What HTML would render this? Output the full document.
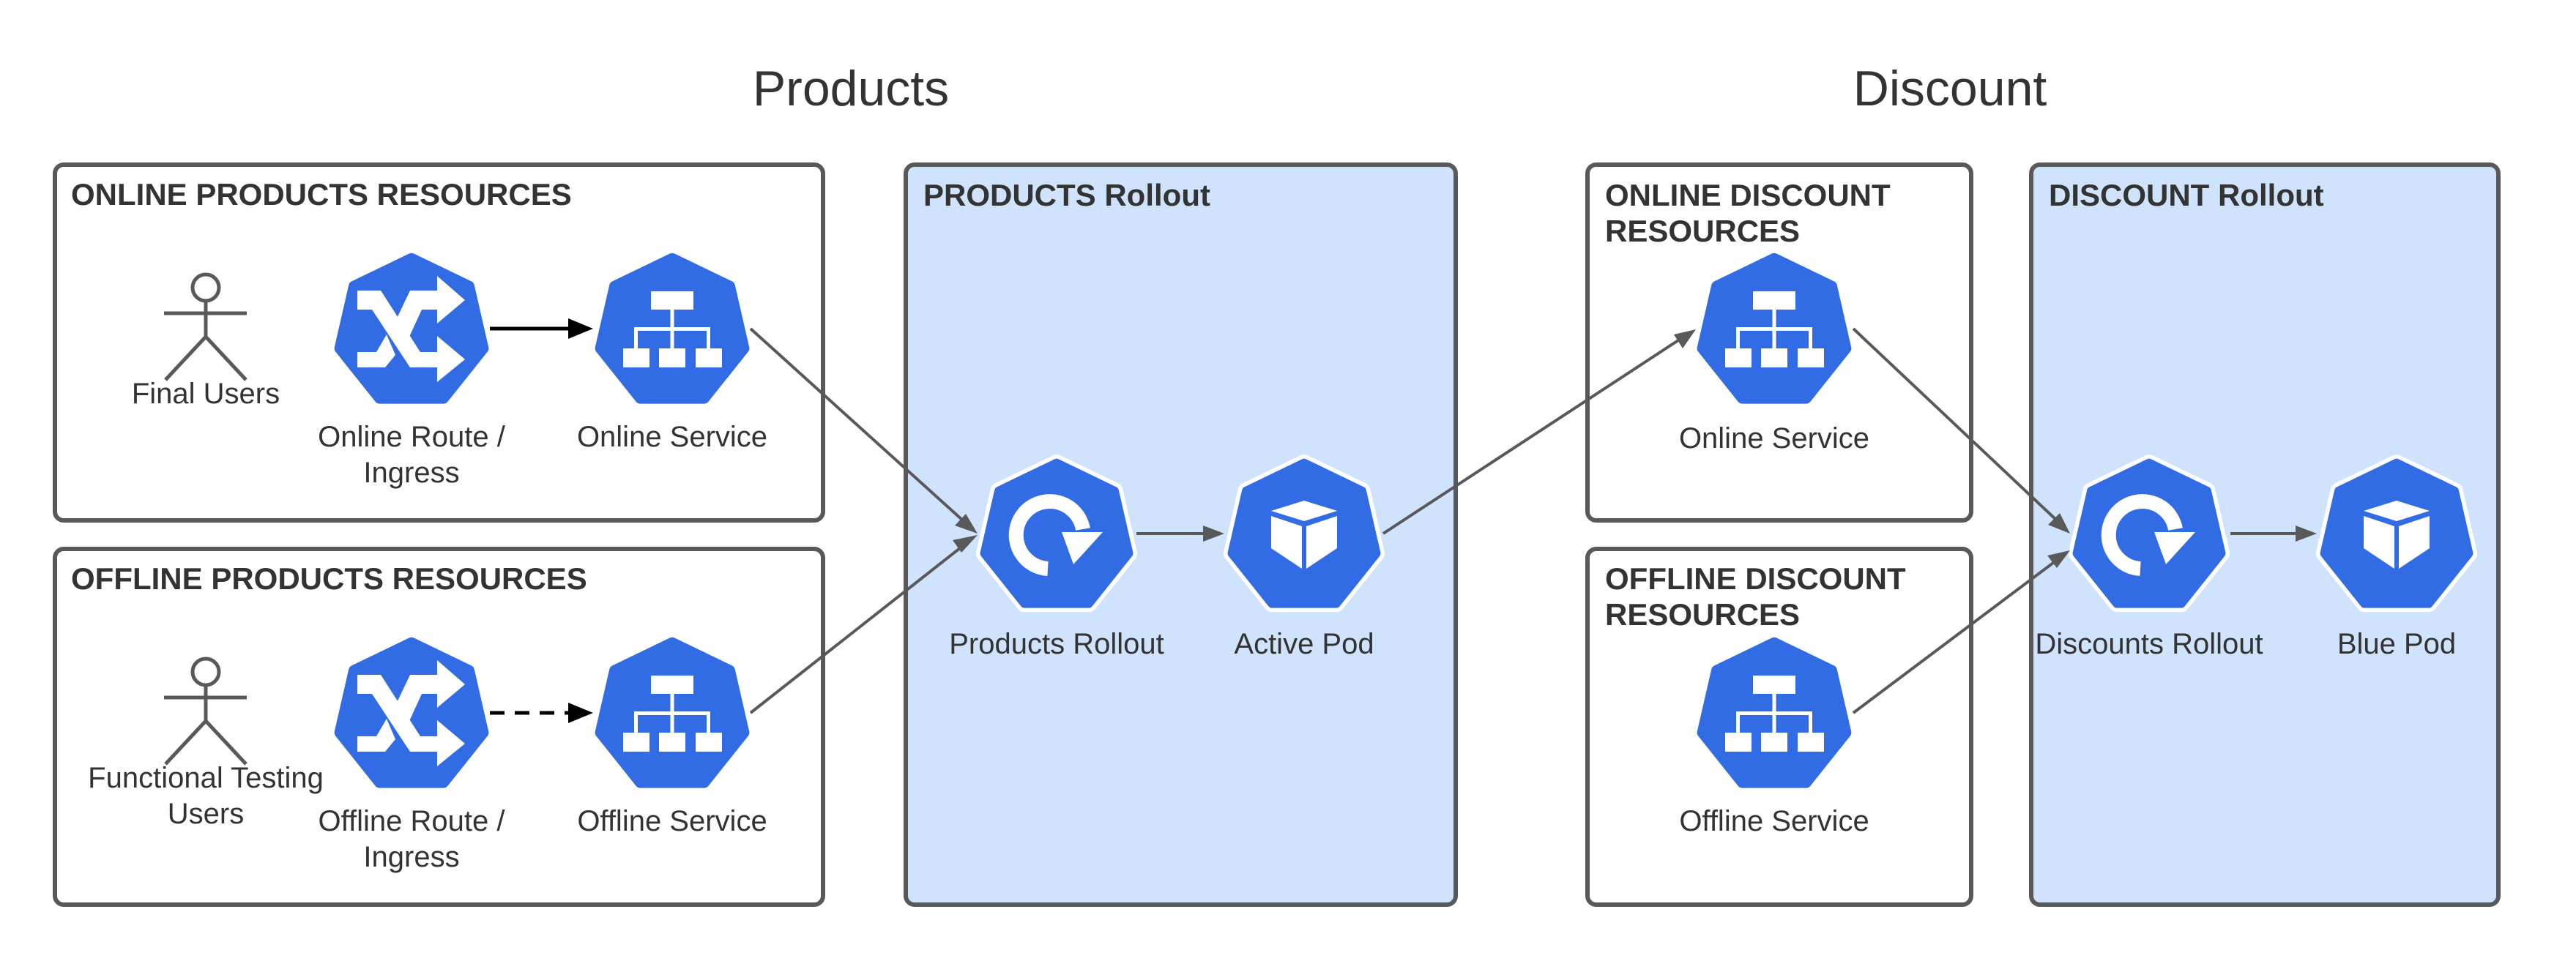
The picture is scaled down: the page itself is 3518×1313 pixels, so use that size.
<!DOCTYPE html>
<html><head><meta charset="utf-8"><style>
html,body{margin:0;padding:0;background:#fff;}
svg{display:block;}
text{font-family:"Liberation Sans",sans-serif;fill:#333;}
.lbl{font-size:40px;text-anchor:middle;}
.hdr{font-size:42px;font-weight:bold;}
.ttl{font-size:68px;text-anchor:middle;}
</style></head><body>
<svg width="3518" height="1313" viewBox="0 0 3518 1313" xmlns="http://www.w3.org/2000/svg">
<defs>
<g id="hept"><polygon transform="scale(0.93)" points="0,-103 84.4,-62.3 105.3,29 46.9,102.3 -46.9,102.3 -105.3,29 -84.4,-62.3" fill="#326ce5" stroke="#326ce5" stroke-width="16" stroke-linejoin="round"/></g>
<g id="heptw"><g transform="scale(0.93)"><polygon points="0,-103 84.4,-62.3 105.3,29 46.9,102.3 -46.9,102.3 -105.3,29 -84.4,-62.3" fill="#fff" stroke="#fff" stroke-width="26" stroke-linejoin="round"/><polygon points="0,-103 84.4,-62.3 105.3,29 46.9,102.3 -46.9,102.3 -105.3,29 -84.4,-62.3" fill="#326ce5" stroke="#326ce5" stroke-width="14" stroke-linejoin="round"/></g></g>
<g id="svc"><use href="#hept"/><g fill="#fff"><rect x="-29" y="-51" width="58" height="25"/><rect x="-2.5" y="-26" width="5" height="53"/><rect x="-52" y="-2" width="104" height="5"/><rect x="-52" y="-2" width="5" height="30"/><rect x="47" y="-2" width="5" height="30"/><rect x="-67" y="27" width="36" height="26"/><rect x="-18" y="27" width="36" height="26"/><rect x="32" y="27" width="36" height="26"/></g></g>
<g id="route"><use href="#hept"/><g fill="#fff">
<polygon points="-74,-52 -42,-52 12,32 35,32 35,10 73,42 35,73 35,53 -2,53 -54,-26 -74,-26"/>
<polygon points="-74,32 -48,32 -34,8 -22,36 -36,53 -74,53"/>
<polygon points="-22,-10 -2,-52 35,-52 35,-72 73,-39 35,-7 35,-26 14,-26 -8,22"/>
</g></g>
<g id="roll"><use href="#heptw"/><path d="M -12 48 A 46 46 0 1 1 36 -6" fill="none" stroke="#fff" stroke-width="20"/><polygon points="7,-2 63,-2 23,42" fill="#fff"/></g>
<g id="pod"><use href="#heptw"/><g fill="#fff"><polygon points="0,-45 45,-31 0,-17 -45,-31"/><polygon points="-45,-24 -3,-10 -3,48 -45,20"/><polygon points="3,-10 45,-24 45,20 3,48"/></g></g>
</defs>

<text class="ttl" x="1162" y="144">Products</text>
<text class="ttl" x="2663" y="144">Discount</text>

<g stroke="#595959" stroke-width="6">
<rect x="75" y="225" width="1049" height="486" rx="12" fill="#fff"/>
<rect x="75" y="750" width="1049" height="486" rx="12" fill="#fff"/>
<rect x="1237" y="225" width="751" height="1011" rx="12" fill="#cfe3fd"/>
<rect x="2168" y="225" width="524" height="486" rx="12" fill="#fff"/>
<rect x="2168" y="750" width="524" height="486" rx="12" fill="#fff"/>
<rect x="2774" y="225" width="638" height="1011" rx="12" fill="#cfe3fd"/>
</g>

<text class="hdr" x="97" y="280">ONLINE PRODUCTS RESOURCES</text>
<text class="hdr" x="97" y="805">OFFLINE PRODUCTS RESOURCES</text>
<text class="hdr" x="1261" y="281">PRODUCTS Rollout</text>
<text class="hdr" x="2192" y="281">ONLINE DISCOUNT</text>
<text class="hdr" x="2192" y="330">RESOURCES</text>
<text class="hdr" x="2192" y="805">OFFLINE DISCOUNT</text>
<text class="hdr" x="2192" y="854">RESOURCES</text>
<text class="hdr" x="2798" y="281">DISCOUNT Rollout</text>

<g stroke="#595959" stroke-width="5" fill="none">
<circle cx="281" cy="393" r="18"/><line x1="281" y1="411" x2="281" y2="460"/><line x1="224" y1="428" x2="337" y2="428"/><polyline points="226,519 281,460 336,519"/>
<circle cx="281" cy="918" r="18"/><line x1="281" y1="936" x2="281" y2="985"/><line x1="224" y1="953" x2="337" y2="953"/><polyline points="226,1044 281,985 336,1044"/>
</g>

<use href="#route" x="562" y="449"/>
<use href="#svc" x="918" y="449"/>
<use href="#route" x="562" y="974"/>
<use href="#svc" x="918" y="974"/>
<use href="#roll" x="1443" y="729"/>
<use href="#pod" x="1781" y="729"/>
<use href="#svc" x="2423" y="449"/>
<use href="#svc" x="2423" y="974"/>
<use href="#roll" x="2935" y="729"/>
<use href="#pod" x="3273" y="729"/>

<line x1="669" y1="449" x2="780" y2="449" stroke="#000" stroke-width="5"/>
<polygon points="810,449 776,435 776,463" fill="#000"/>
<line x1="669" y1="974" x2="780" y2="974" stroke="#000" stroke-width="5" stroke-dasharray="20,14"/>
<polygon points="810,974 776,960 776,988" fill="#000"/>

<g stroke="#595959" stroke-width="4">
<line x1="1025" y1="449" x2="1316" y2="712"/>
<line x1="1025" y1="974" x2="1316" y2="745"/>
<line x1="1552" y1="729" x2="1645" y2="729"/>
<line x1="1889" y1="729" x2="2292" y2="465"/>
<line x1="2531" y1="449" x2="2810" y2="712"/>
<line x1="2531" y1="974" x2="2808" y2="766"/>
<line x1="3046" y1="729" x2="3138" y2="729"/>
</g>
<g fill="#595959">
<polygon points="1335,729 1304,718 1319,702"/>
<polygon points="1335,731 1313,755 1301,738"/>
<polygon points="1672,729 1643,718 1643,740"/>
<polygon points="2316,450 2298,476 2286,457"/>
<polygon points="2827,729 2797,717 2813,701"/>
<polygon points="2827,752 2809,776 2796,759"/>
<polygon points="3164,729 3135,718 3135,740"/>
</g>

<text class="lbl" x="281" y="551">Final Users</text>
<text class="lbl" x="562" y="610">Online Route /</text>
<text class="lbl" x="562" y="659">Ingress</text>
<text class="lbl" x="918" y="610">Online Service</text>
<text class="lbl" x="281" y="1076">Functional Testing</text>
<text class="lbl" x="281" y="1125">Users</text>
<text class="lbl" x="562" y="1135">Offline Route /</text>
<text class="lbl" x="562" y="1184">Ingress</text>
<text class="lbl" x="918" y="1135">Offline Service</text>
<text class="lbl" x="1443" y="893">Products Rollout</text>
<text class="lbl" x="1781" y="893">Active Pod</text>
<text class="lbl" x="2423" y="612">Online Service</text>
<text class="lbl" x="2423" y="1135">Offline Service</text>
<text class="lbl" x="2935" y="893">Discounts Rollout</text>
<text class="lbl" x="3273" y="893">Blue Pod</text>
</svg>
</body></html>
